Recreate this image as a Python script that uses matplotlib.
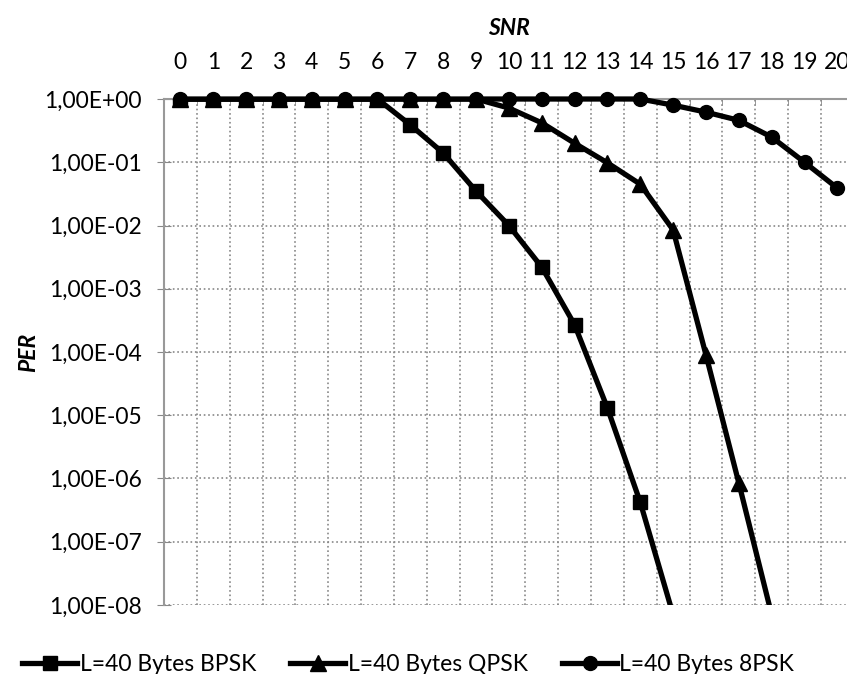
import matplotlib.pyplot as plt
from matplotlib.ticker import FixedLocator, FuncFormatter, NullLocator

plt.rcParams['font.family'] = ['Lato', 'DejaVu Sans']

snr = list(range(21))
bpsk = [1, 1, 1, 1, 1, 1, 1, 0.39, 0.14, 0.035, 0.01, 0.0022, 2.7e-4, 1.3e-5, 4.2e-7, 7e-9]
qpsk = [1, 1, 1, 1, 1, 1, 1, 1, 1, 1, 0.72, 0.42, 0.2, 0.098, 0.045, 0.0085, 9e-5, 8.5e-7, 7e-9]
psk8 = [1, 1, 1, 1, 1, 1, 1, 1, 1, 1, 1, 1, 1, 1, 1, 0.8, 0.62, 0.46, 0.25, 0.1, 0.039]
y_ticks = [1e0, 1e-1, 1e-2, 1e-3, 1e-4, 1e-5, 1e-6, 1e-7, 1e-8]

fig = plt.figure(figsize=(8.47, 6.74), dpi=100)
ax = fig.add_axes([0.1936, 0.1024, 0.8144, 0.7507])

lw = 3.8
ax.plot(snr[:len(bpsk)], bpsk, color='black', lw=lw, marker='s', ms=10.5,
        label='L=40 Bytes BPSK', zorder=3)
ax.plot(snr[:len(qpsk)], qpsk, color='black', lw=lw, marker='^', ms=11.5,
        label='L=40 Bytes QPSK', zorder=3)
ax.plot(snr, psk8, color='black', lw=lw, marker='o', ms=10,
        label='L=40 Bytes 8PSK', clip_on=False, zorder=4)

ax.set_yscale('log')
ax.set_ylim(1e-8, 1)
ax.set_xlim(-0.5, 20.5)

ax.yaxis.set_major_locator(FixedLocator(y_ticks))
ax.yaxis.set_minor_locator(NullLocator())
ax.yaxis.set_major_formatter(FuncFormatter(lambda v, p: ('%.2E' % v).replace('.', ',')))

ax.xaxis.tick_top()
ax.xaxis.set_label_position('top')
ax.set_xticks(snr)
ax.set_xticks([k + 0.5 for k in range(-1, 21)], minor=True)
ax.tick_params(axis='x', which='major', length=0, pad=19, labelsize=16.5)
ax.tick_params(axis='x', which='minor', length=4, direction='in', color='#888888')
ax.tick_params(axis='y', which='major', length=10, direction='inout', color='#888888',
               labelsize=16.5, pad=11)

ax.grid(True, which='major', axis='y', color='#888888', ls=':', lw=1.2)
ax.grid(True, which='minor', axis='x', color='#888888', ls=':', lw=1.2)

for s in ['right', 'bottom']:
    ax.spines[s].set_visible(False)
for s in ['left', 'top']:
    ax.spines[s].set_color('#999999')
    ax.spines[s].set_linewidth(1.5)

ax.set_xlabel('SNR', fontsize=16.5, fontweight='bold', style='italic', labelpad=12)
ax.set_ylabel('PER', fontsize=16.5, fontweight='bold', style='italic', labelpad=4)

fig.legend(loc='lower center', bbox_to_anchor=(0.482, -0.032), ncol=3, frameon=False,
           fontsize=16.5, handlelength=2.4, columnspacing=1.5, handletextpad=0.1)

fig.savefig('out.png', dpi=100)
